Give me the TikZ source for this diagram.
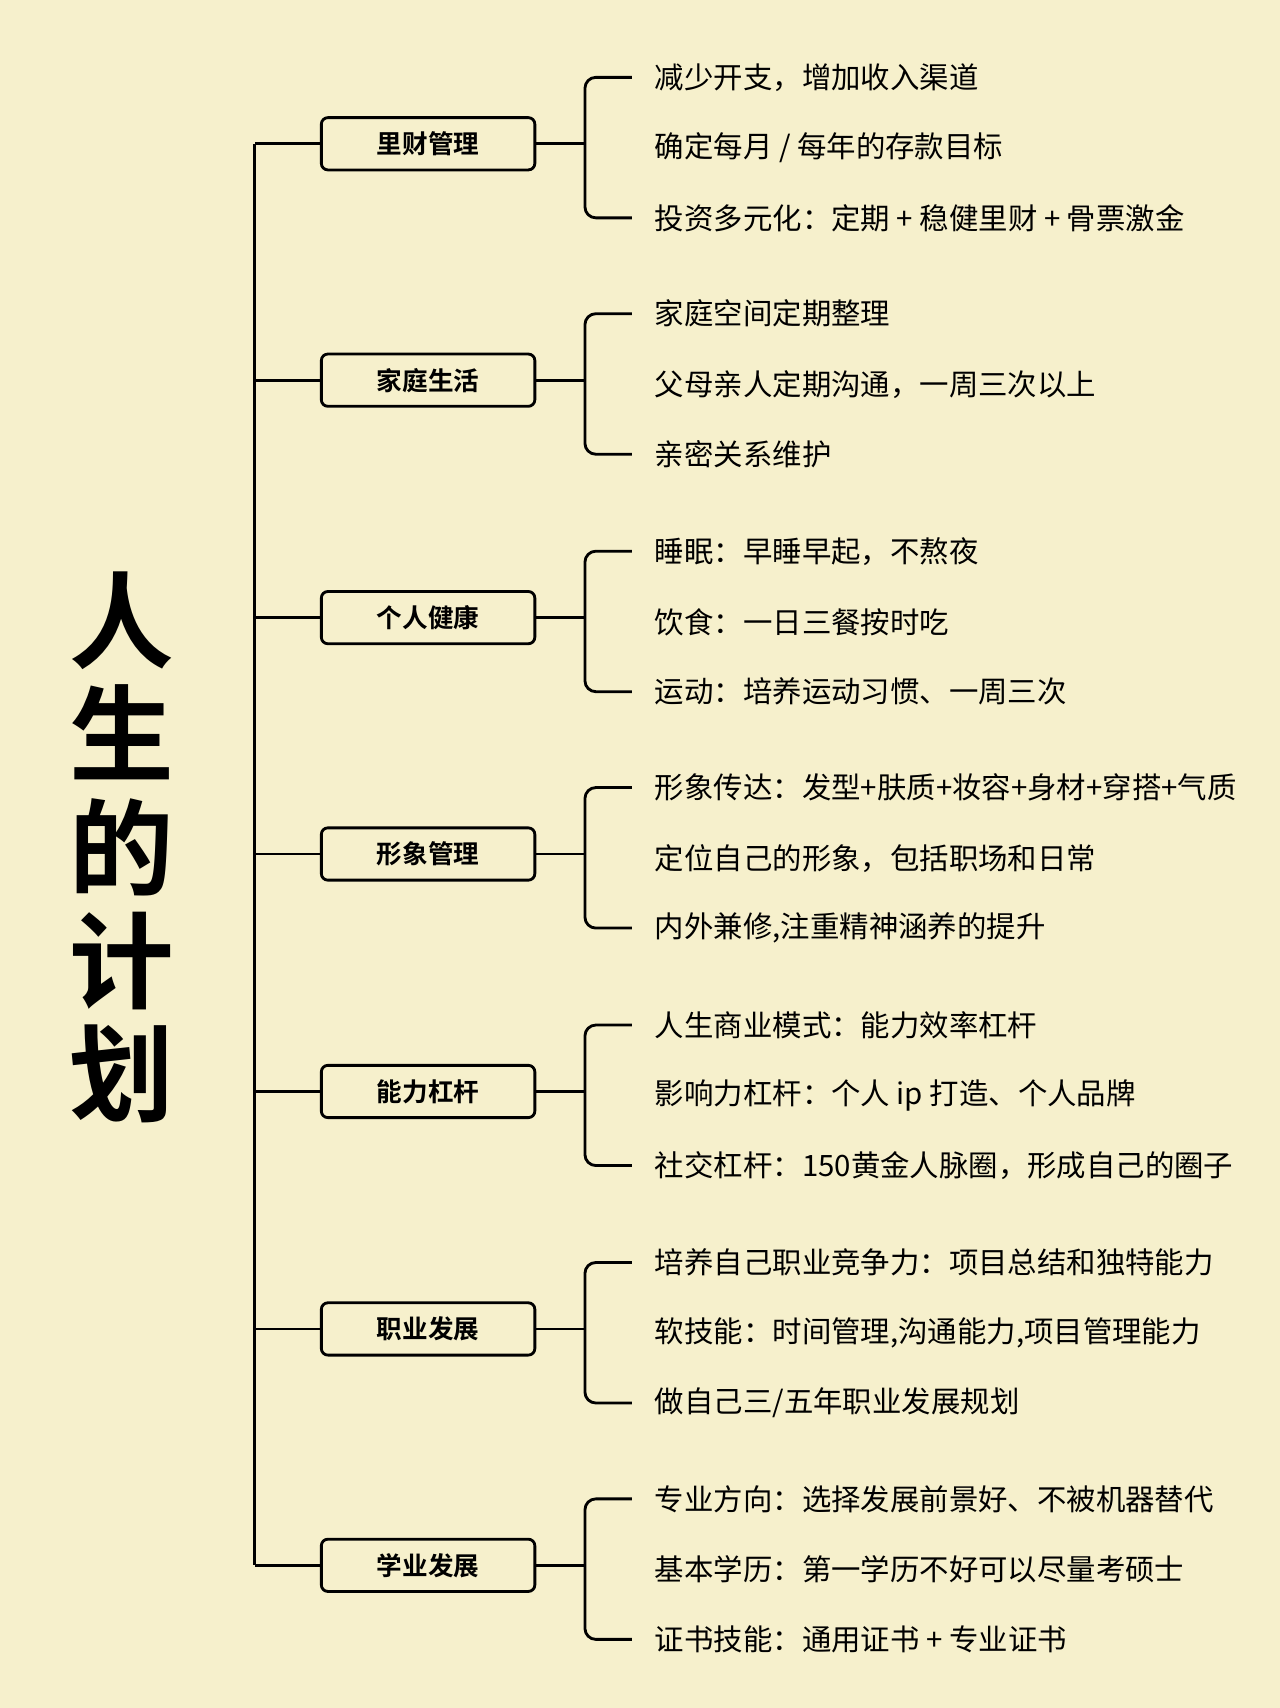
\documentclass[tikz,border=0pt]{standalone}
\usepackage{fontspec}
\setmainfont{Noto Sans CJK SC}[BoldFont={Noto Sans CJK SC Bold}]
\usetikzlibrary{positioning}
\definecolor{paper}{HTML}{F6F0CC}

\begin{document}
\begin{tikzpicture}[x=1pt,y=-1pt
  ,line width=2.6pt
  ,line join=round]
  \tikzstyle{topic}=[draw,rounded corners=6pt,minimum width=196pt,minimum height=48pt
    ,font=\fontsize{23.5}{25}\selectfont\bfseries]
  \tikzstyle{item}=[anchor=west,inner sep=0pt,font=\fontsize{27}{29}\selectfont]

  \fill[paper] (0,0) rectangle (1175,1568);
  \useasboundingbox (0,0) rectangle (1175,1568);

  \node (title) at (112,778) [align=center,font=\fontsize{96}{104}\selectfont\bfseries]
    {人\\生\\的\\计\\划};

  \foreach \i/\y/\t/\a/\b/\c in {
    1/132/里财管理/{减少开支，增加收入渠道}/{确定每月 / 每年的存款目标}/{投资多元化：定期 + 稳健里财 + 骨票激金},
    2/349/家庭生活/{家庭空间定期整理}/{父母亲人定期沟通，一周三次以上}/{亲密关系维护},
    3/567/个人健康/{睡眠：早睡早起，不熬夜}/{饮食：一日三餐按时吃}/{运动：培养运动习惯、一周三次},
    4/784/形象管理/{形象传达：发型+肤质+妆容+身材+穿搭+气质}/{定位自己的形象，包括职场和日常}/{内外兼修,注重精神涵养的提升},
    5/1002/能力杠杆/{人生商业模式：能力效率杠杆}/{影响力杠杆：个人 ip 打造、个人品牌}/{社交杠杆：150黄金人脉圈，形成自己的圈子},
    6/1220/职业发展/{培养自己职业竞争力：项目总结和独特能力}/{软技能：时间管理,沟通能力,项目管理能力}/{做自己三/五年职业发展规划},
    7/1437/学业发展/{专业方向：选择发展前景好、不被机器替代}/{基本学历：第一学历不好可以尽量考硕士}/{证书技能：通用证书 + 专业证书}}
  {
    \node[topic] (t\i) at (393,\y) {\t};
    \node[item] (t\i a) at (600,\y-61) {\a};
    \node[item] (t\i b) at (600,\y+4) {\b};
    \node[item] (t\i c) at (600,\y+68) {\c};
    \draw (t\i.west) -- ++(-60,0);
    \draw (t\i.east) -- ++(46,0);
    \draw[rounded corners=10pt] ([xshift=-20pt]t\i a.west) -| ([xshift=-63pt]t\i c.west)
      -- ([xshift=-20pt]t\i c.west);
  }
  \draw ([xshift=-60pt]t1.west) -- ([xshift=-60pt]t7.west);

\end{tikzpicture}
\end{document}
